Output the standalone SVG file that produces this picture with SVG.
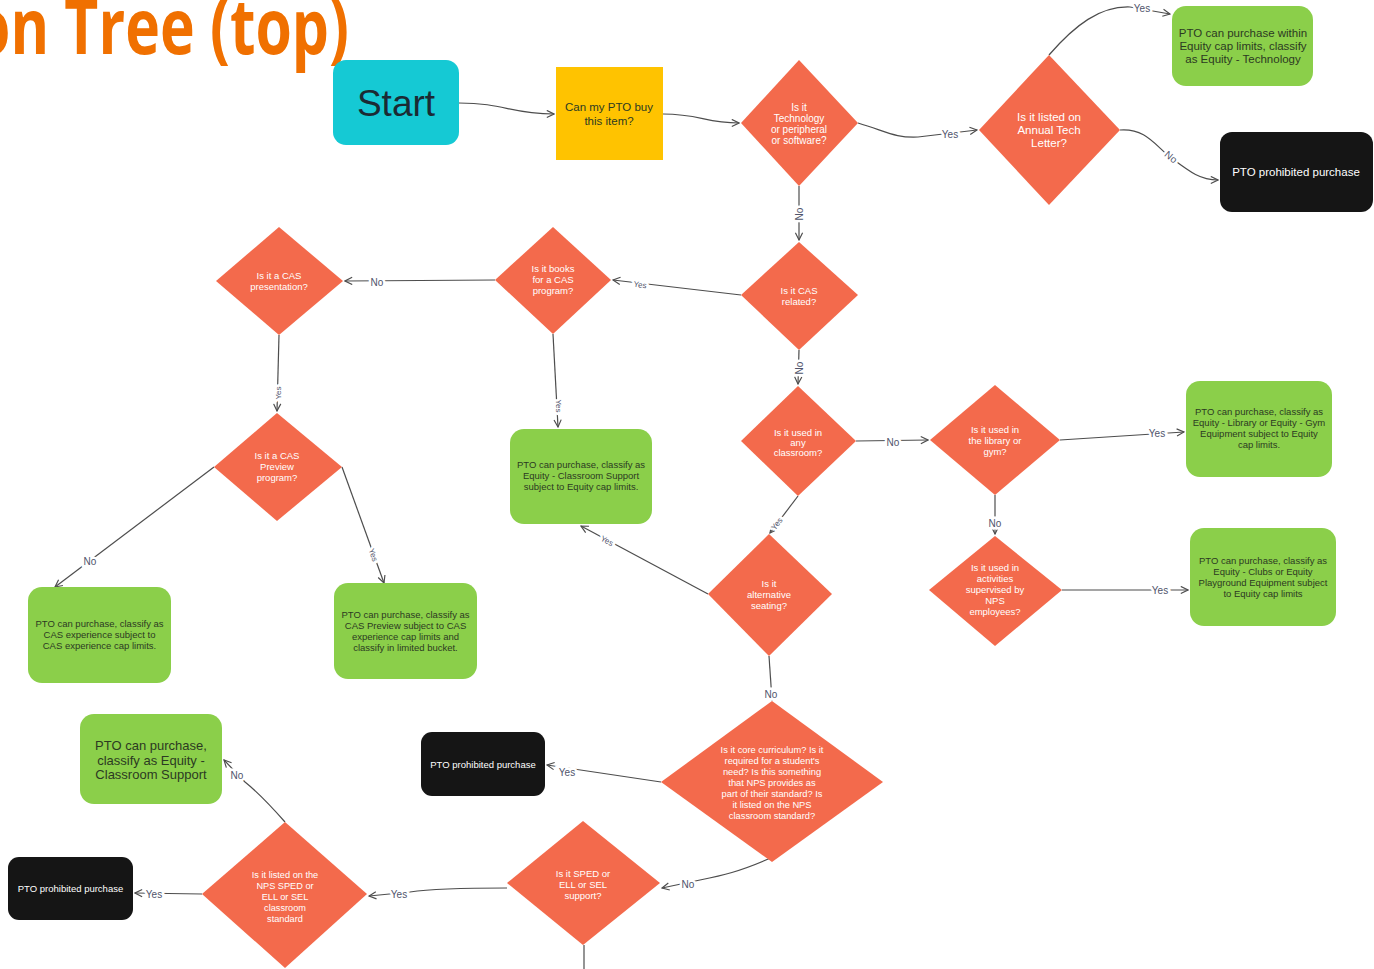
<svg xmlns="http://www.w3.org/2000/svg" width="1374" height="969" viewBox="0 0 1374 969">
<style>
.dia{fill:#F36A4C}
.grn{fill:#8BCF4A}
.blk{fill:#151515}
.dt{font-family:"Liberation Sans",Arial,sans-serif;fill:#ffffff;text-anchor:middle}
.gt{font-family:"Liberation Sans",Arial,sans-serif;fill:#2c3a22;text-anchor:middle}
.bt{font-family:"Liberation Sans",Arial,sans-serif;fill:#ffffff;text-anchor:middle}
.cn{fill:none;stroke:#4d4d4d;stroke-width:1.2;marker-end:url(#arr)}
.lb{font-family:"Liberation Sans",Arial,sans-serif;font-size:10px;fill:#4f546b;text-anchor:middle;dominant-baseline:central;paint-order:stroke;stroke:#ffffff;stroke-width:5px}
.sm{font-size:8px}
</style>
<defs>
<marker id="arr" viewBox="0 0 10 10" refX="9" refY="5" markerWidth="9" markerHeight="9" markerUnits="userSpaceOnUse" orient="auto">
<path d="M1,1 L9,5 L1,9" fill="none" stroke="#4d4d4d" stroke-width="1.3"/>
</marker>
</defs>
<rect width="1374" height="969" fill="#ffffff"/>
<text x="-26" y="54" font-family="'Open Sans','Noto Sans',sans-serif" font-weight="bold" font-size="77" fill="#F07000" textLength="375" lengthAdjust="spacingAndGlyphs">on Tree (top)</text>

<g id="connectors">
<path class="cn" d="M459,103 C505,103 510,114 554,114"/>
<path class="cn" d="M663,114 C700,114 705,123 739,123"/>
<path class="cn" d="M858,123 C888,132 895,138 918,137 L977,130"/>
<path class="cn" d="M1049,55 C1075,25 1100,6 1130,7 L1170,14"/>
<path class="cn" d="M1120,130 C1145,128 1155,145 1170,157 C1190,172 1200,180 1218,180"/>
<path class="cn" d="M799,186 L799,240"/>
<path class="cn" d="M741,295 L613,280"/>
<path class="cn" d="M495,280 L345,281"/>
<path class="cn" d="M279,335 L277,411"/>
<path class="cn" d="M553,334 L558,427"/>
<path class="cn" d="M214,467 L55,587"/>
<path class="cn" d="M342,467 L384,583"/>
<path class="cn" d="M799,350 L798,384"/>
<path class="cn" d="M856,441 L928,440"/>
<path class="cn" d="M1060,440 L1184,432"/>
<path class="cn" d="M995,495 L995,534"/>
<path class="cn" d="M1062,590 L1188,590"/>
<path class="cn" d="M798,496 L770,533"/>
<path class="cn" d="M708,594 L581,526"/>
<path class="cn" d="M769,656 L772,700"/>
<path class="cn" d="M661,782 L547,765"/>
<path class="cn" d="M775,856 C740,872 720,876 700,880 L662,888"/>
<path class="cn" d="M507,888 C470,888 430,889 410,892 L369,896"/>
<path class="cn" d="M202,894 L135,893"/>
<path class="cn" d="M285,822 C270,805 255,790 245,782 L224,760"/>
<path fill="none" stroke="#4d4d4d" stroke-width="1.2" d="M584,945 L584,969"/>
<text class="lb" x="950" y="134">Yes</text>
<text class="lb" x="1142" y="8">Yes</text>
<text class="lb" transform="translate(1171,157) rotate(40)">No</text>
<text class="lb" transform="translate(799,214) rotate(-90)">No</text>
<text class="lb sm" transform="translate(640,285) rotate(8)">Yes</text>
<text class="lb" x="377" y="282">No</text>
<text class="lb sm" transform="translate(278,393) rotate(-90)">Yes</text>
<text class="lb sm" transform="translate(558,406) rotate(90)">Yes</text>
<text class="lb" x="90" y="561">No</text>
<text class="lb sm" transform="translate(373,555) rotate(70)">Yes</text>
<text class="lb" transform="translate(799,368) rotate(-90)">No</text>
<text class="lb" x="893" y="442">No</text>
<text class="lb" x="1157" y="433">Yes</text>
<text class="lb" x="995" y="523">No</text>
<text class="lb" x="1160" y="590">Yes</text>
<text class="lb sm" transform="translate(777,524) rotate(-52)">Yes</text>
<text class="lb sm" transform="translate(607,541) rotate(28)">Yes</text>
<text class="lb" x="771" y="694">No</text>
<text class="lb" x="567" y="772">Yes</text>
<text class="lb" x="688" y="884">No</text>
<text class="lb" x="399" y="894">Yes</text>
<text class="lb" x="154" y="894">Yes</text>
<text class="lb" x="237" y="775">No</text>
</g>

<g id="start">
<rect x="333" y="60" width="126" height="85" rx="13" fill="#15C9D4"/>
<text x="396" y="116" font-family="'Liberation Sans',Arial,sans-serif" font-size="37" fill="#1b2a33" text-anchor="middle">Start</text>
</g>
<g id="q-can-buy">
<rect x="556" y="67" width="107" height="93" fill="#FFC300"/>
<text class="gt" x="609" y="111" font-size="11.5" fill="#333">Can my PTO buy</text>
<text class="gt" x="609" y="125" font-size="11.5">this item?</text>
</g>
<g id="d-technology">
<polygon class="dia" points="799,60 858,123 799,186 741,123"/>
<text class="dt" font-size="10"><tspan x="799" y="110.5">Is it</tspan><tspan x="799" y="121.5">Technology</tspan><tspan x="799" y="132.5">or peripheral</tspan><tspan x="799" y="143.5">or software?</tspan></text>
</g>
<g id="d-tech-letter">
<polygon class="dia" points="1049,55 1120,130 1049,205 979,130"/>
<text class="dt" font-size="11.5"><tspan x="1049" y="121">Is it listed on</tspan><tspan x="1049" y="134">Annual Tech</tspan><tspan x="1049" y="147">Letter?</tspan></text>
</g>
<g id="g-tech">
<rect class="grn" x="1172" y="6" width="141" height="80" rx="14"/>
<text class="gt" font-size="11.5"><tspan x="1243" y="37">PTO can purchase within</tspan><tspan x="1243" y="50">Equity cap limits, classify</tspan><tspan x="1243" y="63">as Equity - Technology</tspan></text>
</g>
<g id="b-prohibited-1">
<rect class="blk" x="1220" y="132" width="153" height="80" rx="12"/>
<text class="bt" x="1296" y="176" font-size="11.5">PTO prohibited purchase</text>
</g>
<g id="d-cas-related">
<polygon class="dia" points="799,242 858,295 799,350 741,295"/>
<text class="dt" font-size="9.5"><tspan x="799" y="293.5">Is it CAS</tspan><tspan x="799" y="304.5">related?</tspan></text>
</g>
<g id="d-books">
<polygon class="dia" points="553,227 611,280 553,334 495,280"/>
<text class="dt" font-size="9.5"><tspan x="553" y="272">Is it books</tspan><tspan x="553" y="283">for a CAS</tspan><tspan x="553" y="294">program?</tspan></text>
</g>
<g id="d-presentation">
<polygon class="dia" points="279,227 343,281 279,335 216,281"/>
<text class="dt" font-size="9.5"><tspan x="279" y="279">Is it a CAS</tspan><tspan x="279" y="290">presentation?</tspan></text>
</g>
<g id="d-preview">
<polygon class="dia" points="277,413 342,467 277,521 214,467"/>
<text class="dt" font-size="9.5"><tspan x="277" y="458.5">Is it a CAS</tspan><tspan x="277" y="469.5">Preview</tspan><tspan x="277" y="481">program?</tspan></text>
</g>
<g id="g-cas-exp">
<rect class="grn" x="28" y="587" width="143" height="96" rx="14"/>
<text class="gt" font-size="9.5"><tspan x="99.5" y="627">PTO can purchase, classify as</tspan><tspan x="99.5" y="638">CAS experience subject to</tspan><tspan x="99.5" y="649">CAS experience cap limits.</tspan></text>
</g>
<g id="g-cas-preview">
<rect class="grn" x="334" y="583" width="143" height="96" rx="14"/>
<text class="gt" font-size="9.5"><tspan x="405.5" y="618">PTO can purchase, classify as</tspan><tspan x="405.5" y="629">CAS Preview subject to CAS</tspan><tspan x="405.5" y="640">experience cap limits and</tspan><tspan x="405.5" y="651">classify in limited bucket.</tspan></text>
</g>
<g id="g-classroom-support">
<rect class="grn" x="510" y="429" width="142" height="95" rx="14"/>
<text class="gt" font-size="9.5"><tspan x="581" y="468">PTO can purchase, classify as</tspan><tspan x="581" y="479">Equity - Classroom Support</tspan><tspan x="581" y="490">subject to Equity cap limits.</tspan></text>
</g>
<g id="d-classroom">
<polygon class="dia" points="798,386 856,441 798,496 741,441"/>
<text class="dt" font-size="9.5"><tspan x="798" y="435.5">Is it used in</tspan><tspan x="798" y="445.5">any</tspan><tspan x="798" y="456">classroom?</tspan></text>
</g>
<g id="d-library">
<polygon class="dia" points="995,385 1060,440 995,495 930,440"/>
<text class="dt" font-size="9.5"><tspan x="995" y="432.5">Is it used in</tspan><tspan x="995" y="443.5">the library or</tspan><tspan x="995" y="454.5">gym?</tspan></text>
</g>
<g id="g-library">
<rect class="grn" x="1186" y="381" width="146" height="96" rx="14"/>
<text class="gt" font-size="9.5"><tspan x="1259" y="415">PTO can purchase, classify as</tspan><tspan x="1259" y="426">Equity - Library or Equity - Gym</tspan><tspan x="1259" y="437">Equipment subject to Equity</tspan><tspan x="1259" y="448">cap limits.</tspan></text>
</g>
<g id="d-activities">
<polygon class="dia" points="995,536 1062,590 995,646 929,590"/>
<text class="dt" font-size="9.5"><tspan x="995" y="570.5">Is it used in</tspan><tspan x="995" y="581.5">activities</tspan><tspan x="995" y="593">supervised by</tspan><tspan x="995" y="604">NPS</tspan><tspan x="995" y="615">employees?</tspan></text>
</g>
<g id="g-clubs">
<rect class="grn" x="1190" y="528" width="146" height="98" rx="14"/>
<text class="gt" font-size="9.5"><tspan x="1263" y="564">PTO can purchase, classify as</tspan><tspan x="1263" y="575">Equity - Clubs or Equity</tspan><tspan x="1263" y="586">Playground Equipment subject</tspan><tspan x="1263" y="597">to Equity cap limits</tspan></text>
</g>
<g id="d-seating">
<polygon class="dia" points="769,534 832,594 769,656 708,594"/>
<text class="dt" font-size="9.5"><tspan x="769" y="586.5">Is it</tspan><tspan x="769" y="598">alternative</tspan><tspan x="769" y="609">seating?</tspan></text>
</g>
<g id="d-core">
<polygon class="dia" points="772,701 883,782 772,862 661,782"/>
<text class="dt" font-size="9.3"><tspan x="772" y="752.5">Is it core curriculum? Is it</tspan><tspan x="772" y="763.5">required for a student's</tspan><tspan x="772" y="774.5">need? Is this something</tspan><tspan x="772" y="785.5">that NPS provides as</tspan><tspan x="772" y="796.5">part of their standard? Is</tspan><tspan x="772" y="807.5">it listed on the NPS</tspan><tspan x="772" y="818.5">classroom standard?</tspan></text>
</g>
<g id="b-prohibited-2">
<rect class="blk" x="421" y="732" width="124" height="64" rx="11"/>
<text class="bt" x="483" y="767.5" font-size="9.5">PTO prohibited purchase</text>
</g>
<g id="d-sped">
<polygon class="dia" points="583,821 660,883 583,945 507,883"/>
<text class="dt" font-size="9.5"><tspan x="583" y="876.5">Is it SPED or</tspan><tspan x="583" y="887.5">ELL or SEL</tspan><tspan x="583" y="898.5">support?</tspan></text>
</g>
<g id="d-sped-standard">
<polygon class="dia" points="285,822 367,894 285,968 202,894"/>
<text class="dt" font-size="9.2"><tspan x="285" y="877.5">Is it listed on the</tspan><tspan x="285" y="888.5">NPS SPED or</tspan><tspan x="285" y="899.5">ELL or SEL</tspan><tspan x="285" y="910.5">classroom</tspan><tspan x="285" y="921.5">standard</tspan></text>
</g>
<g id="g-classroom-support-2">
<rect class="grn" x="80" y="714" width="142" height="90" rx="14"/>
<text class="gt" font-size="13"><tspan x="151" y="749.5">PTO can purchase,</tspan><tspan x="151" y="764.5">classify as Equity -</tspan><tspan x="151" y="778.5">Classroom Support</tspan></text>
</g>
<g id="b-prohibited-3">
<rect class="blk" x="8" y="857" width="125" height="63" rx="11"/>
<text class="bt" x="70.5" y="891.5" font-size="9.5">PTO prohibited purchase</text>
</g>
</svg>
